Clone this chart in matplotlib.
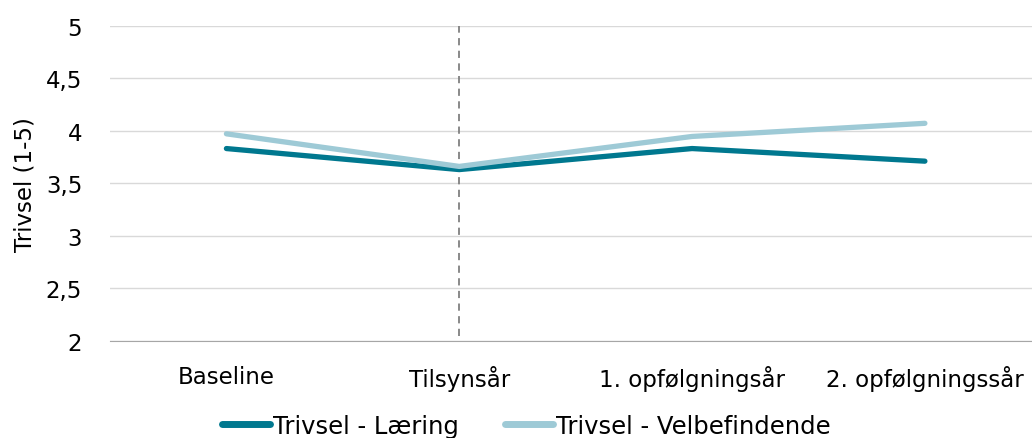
import matplotlib
matplotlib.use("Agg")
import matplotlib.pyplot as plt
from matplotlib.ticker import FuncFormatter

categories = ["Baseline", "Tilsynsår", "1. opfølgningsår", "2. opfølgningssår"]
laering = [3.83, 3.63, 3.83, 3.71]
velbefindende = [3.97, 3.66, 3.945, 4.07]
series_names = ["Trivsel - Læring", "Trivsel - Velbefindende"]
y_ticks = [2, 2.5, 3, 3.5, 4, 4.5, 5]
ylabel = "Trivsel (1-5)"

FS = 16.5
plt.rcParams['font.family'] = ['DejaVu Sans']
fig = plt.figure(figsize=(10.32, 4.39), dpi=100)
ax = fig.add_axes([110/1032, 1 - 342/439, (1032-110)/1032, (342-26.5)/439])

x = list(range(len(categories)))
ax.plot(x, laering, color="#00788F", lw=3.8, solid_capstyle="round", label=series_names[0], zorder=3)
ax.plot(x, velbefindende, color="#9ECAD6", lw=3.8, solid_capstyle="round", label=series_names[1], zorder=3)

ax.axvline(1, ymin=0.015, ymax=1, color="#808080", lw=1.3, ls=(0, (4, 3)), zorder=2)

ax.set_xlim(-0.5, 3.46)
ax.set_ylim(2, 5)
ax.set_yticks(y_ticks)
ax.yaxis.set_major_formatter(FuncFormatter(lambda v, p: (f"{v:g}").replace(".", ",")))
ax.set_xticks(x)
ax.set_xticklabels(categories)
ax.grid(axis="y", color="#d9d9d9", lw=1)
ax.set_axisbelow(True)
for s in ["top", "right", "left"]:
    ax.spines[s].set_visible(False)
ax.spines["bottom"].set_color("#a6a6a6")
ax.tick_params(axis="both", length=0, labelsize=FS, colors="black")
ax.tick_params(axis="y", pad=20)
ax.tick_params(axis="x", pad=17)
ax.set_ylabel(ylabel, fontsize=FS)
ax.yaxis.set_label_coords(-0.08, 0.5)

leg = fig.legend(loc="center", bbox_to_anchor=(526/1032, 1 - 427/439), ncol=2, frameon=False,
                 fontsize=17.5, handlelength=2.0, handletextpad=0.1, columnspacing=1.9)
for h in leg.get_lines():
    h.set_linewidth(5)
fig.savefig("out.png", dpi=100)
